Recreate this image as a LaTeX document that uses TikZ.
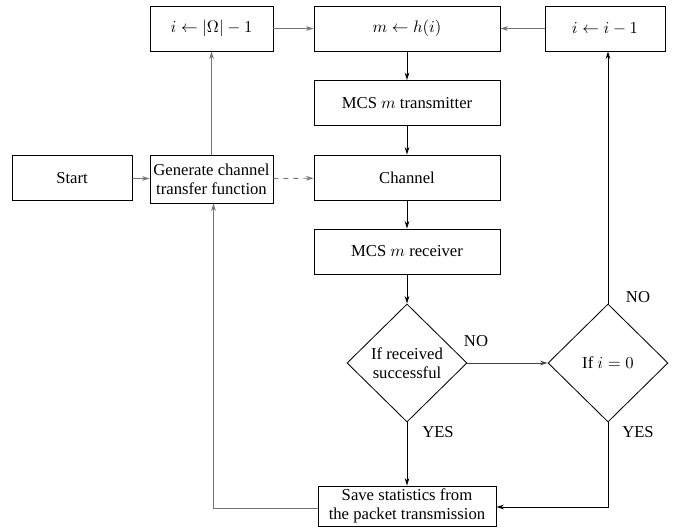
\documentclass[tikz,border=0pt]{standalone}
\usepackage{fontspec}
\setmainfont{Liberation Serif}
\usetikzlibrary{shapes.geometric,arrows.meta}
\begin{document}
\begin{tikzpicture}[x=0.6pt,y=-0.6pt,
  font=\fontsize{10}{11.5}\selectfont,
  blk/.style={draw,rectangle,minimum height=27pt,align=center,inner sep=1pt,line width=0.5pt},
  dec/.style={draw,diamond,minimum width=72pt,minimum height=70.8pt,inner sep=0pt,line width=0.5pt},
  arr/.style={line width=0.5pt,-{Stealth[length=4.5pt,width=2.8pt,open]}},
  grayline/.style={draw=black!55},
  lbl/.style={inner sep=0pt}]
\useasboundingbox (0,0) rectangle (675,531);
\node[blk,minimum width=72pt] (start) at (72,178) {Start};
\node[blk,minimum width=73.8pt,minimum height=28.8pt] (gen) at (211.5,179) {Generate channel\\transfer function};
\node[blk,minimum width=73.8pt] (omega) at (211.5,28.5) {$i\leftarrow|\Omega|-1$};
\node[blk,minimum width=111.6pt] (mh) at (407,28.5) {$m\leftarrow h(i)$};
\node[blk,minimum width=72pt] (dec1) at (605,28.5) {$i\leftarrow i-1$};
\node[blk,minimum width=111.6pt] (tx) at (407,103) {MCS $m$ transmitter};
\node[blk,minimum width=111.6pt] (ch) at (407,177.5) {Channel};
\node[blk,minimum width=111.6pt] (rx) at (407,251.5) {MCS $m$ receiver};
\node[dec,label={[align=center]center:If received\\successful}] (d1) at (407,363) {};
\node[dec,label={center:If $i=0$}] (d2) at (608,363) {};
\node[blk,minimum width=106.8pt,minimum height=24pt,inner sep=0.5pt] (save) at (407,506) {Save statistics from\\the packet transmission};
\coordinate (lc) at (213.5,508);
\coordinate (rc) at (608,507);
% connectors
\draw[arr,grayline] (start) -- (gen);
\draw[arr,grayline] (gen) -- (omega);
\draw[arr,grayline] (omega) -- (mh);
\draw[arr,grayline,dashed] (gen) -- (ch);
\draw[arr,grayline] (dec1) -- (mh);
\draw[arr] (mh) -- (tx);
\draw[arr] (tx) -- (ch);
\draw[arr] (ch) -- (rx);
\draw[arr] (rx) -- (d1);
\draw[arr,draw=black!75] (d1) -- (d2);
\draw[arr] (d2.north) -- (d2.north |- dec1.south);
\draw[arr] (d1) -- (save);
\draw[arr] (d2.south) -- (rc) -- (save.east |- rc);
\draw[arr,grayline] (save.west |- lc) -- (lc) -- (lc |- gen.south);
% labels
\node[lbl] (no1) at (476,341) {NO};
\node[lbl] (no2) at (638,297) {NO};
\node[lbl] (yes1) at (438,432) {YES};
\node[lbl] (yes2) at (638,432) {YES};
\end{tikzpicture}
\end{document}
